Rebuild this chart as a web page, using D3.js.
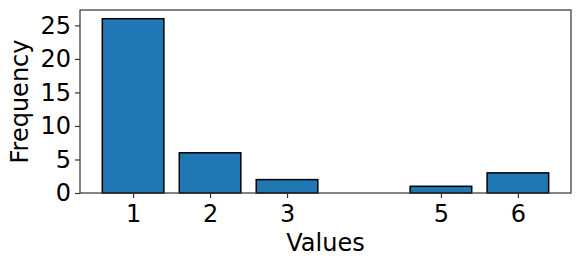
<!DOCTYPE html>
<html>
<head>
<meta charset="utf-8">
<script src="https://cdn.jsdelivr.net/npm/d3@7"></script>
<style>
  body { margin: 0; background: #fff; }
  text { font-family: "DejaVu Sans", sans-serif; fill: #000; }
</style>
</head>
<body>
<svg id="chart" width="581" height="266"></svg>
<script>
// data
var values = [1, 2, 3, 5, 6];
var counts = [26, 6, 2, 1, 3];
var yTicks = [0, 5, 10, 15, 20, 25];

var svg = d3.select('#chart'),
    margin = { top: 10, right: 10, bottom: 73, left: 80 },
    width = +svg.attr('width') - margin.left - margin.right,
    height = +svg.attr('height') - margin.top - margin.bottom,
    g = svg.append('g')
        .attr('transform', 'translate(' + margin.left + ',' + margin.top + ')');

var fontSize = 24;
var barWidth = 0.8;
var lo = d3.min(values) - barWidth / 2,
    hi = d3.max(values) + barWidth / 2,
    pad = (hi - lo) * 0.05;

var x = d3.scaleLinear()
    .domain([lo - pad, hi + pad])
    .range([0, width]);

var y = d3.scaleLinear()
    .domain([0, d3.max(counts) * 1.05])
    .range([height, 0]);

var data = values.map((v, i) => ({ value: v, count: counts[i] }));

// bars
g.selectAll('.bar')
    .data(data)
    .enter()
    .append('rect')
    .attr('class', 'bar')
    .attr('x', d => x(d.value - barWidth / 2))
    .attr('width', d => x(d.value + barWidth / 2) - x(d.value - barWidth / 2))
    .attr('y', d => y(d.count))
    .attr('height', d => y(0) - y(d.count))
    .attr('fill', '#1f77b4')
    .attr('stroke', '#000')
    .attr('stroke-width', 1.5);

// axes
var xAxis = g.append('g')
    .attr('transform', 'translate(0,' + height + ')')
    .call(d3.axisBottom(x).tickValues(values).tickSize(5).tickPadding(7).tickFormat(d3.format('d')));

var yAxis = g.append('g')
    .call(d3.axisLeft(y).tickValues(yTicks).tickSize(5).tickPadding(4));

[xAxis, yAxis].forEach(a => {
    a.select('.domain').remove();
    a.selectAll('line').attr('stroke', '#333').attr('stroke-width', 1.2);
    a.selectAll('text').attr('font-size', fontSize).attr('font-family', '"DejaVu Sans", sans-serif').attr('fill', '#000');
});

// frame
g.append('rect')
    .attr('x', 0)
    .attr('y', 0)
    .attr('width', width)
    .attr('height', height)
    .attr('fill', 'none')
    .attr('stroke', '#333')
    .attr('stroke-width', 1.2);

// labels
svg.append('text')
    .attr('x', margin.left + width / 2)
    .attr('y', 251)
    .attr('text-anchor', 'middle')
    .attr('font-size', fontSize)
    .text('Values');

svg.append('text')
    .attr('transform', 'translate(28,' + (margin.top + height / 2) + ') rotate(-90)')
    .attr('text-anchor', 'middle')
    .attr('font-size', fontSize)
    .text('Frequency');
</script>
</body>
</html>
